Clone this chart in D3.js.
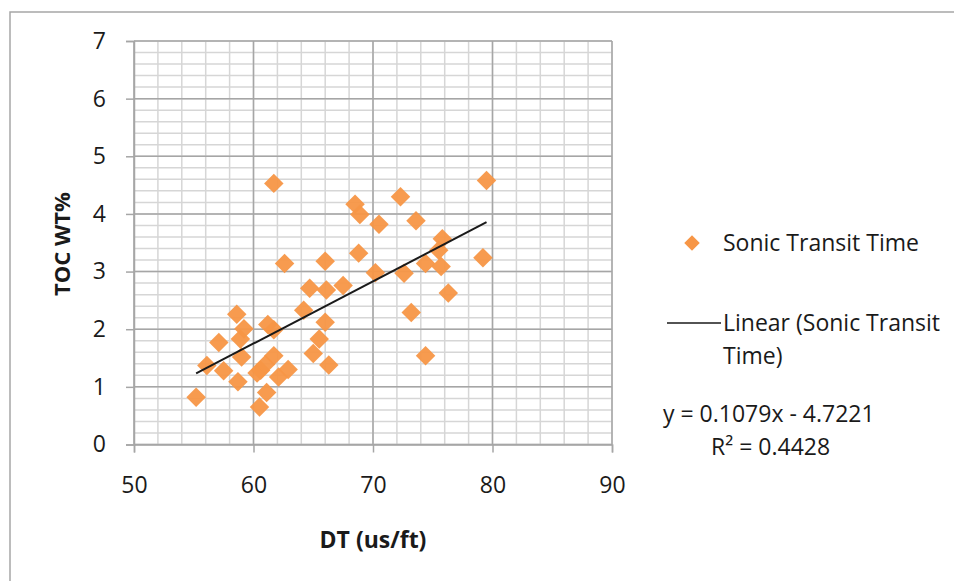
<!DOCTYPE html>
<html>
<head>
<meta charset="utf-8">
<script src="https://cdn.jsdelivr.net/npm/d3@7"></script>
<style>
  body { margin: 0; background: #fff; }
  text { font-family: "Open Sans", sans-serif; fill: #1a1a1a; }
</style>
</head>
<body>
<div id="chart"></div>
<script>
// TOC vs sonic transit time
const dtValues = [55.2, 56.1, 57.1, 57.5, 58.6, 58.7, 58.9, 59.2, 59.0, 60.3,
    60.5, 61.1, 61.2, 61.7, 60.6, 61.0, 61.7, 62.1, 62.9, 61.7,
    62.6, 64.2, 64.7, 65.0, 65.5, 66.0, 66.0, 66.1, 66.3, 67.5,
    68.5, 68.9, 68.8, 70.2, 70.5, 72.3, 72.6, 73.2, 73.6, 74.4,
    74.4, 75.5, 75.8, 75.7, 76.3, 79.2, 79.5];
const tocValues = [0.82, 1.37, 1.77, 1.28, 2.26, 1.09, 1.83, 2.01, 1.52, 1.24,
    0.65, 0.90, 2.08, 1.99, 1.29, 1.39, 1.54, 1.17, 1.30, 4.53,
    3.14, 2.33, 2.71, 1.58, 1.83, 2.12, 3.18, 2.68, 1.38, 2.76,
    4.17, 3.99, 3.32, 2.98, 3.82, 4.30, 2.97, 2.29, 3.88, 3.14,
    1.54, 3.37, 3.57, 3.09, 2.63, 3.24, 4.58];

const xTicks = [50, 60, 70, 80, 90];
const yTicks = [0, 1, 2, 3, 4, 5, 6, 7];
const slope = 0.1079, intercept = -4.7221;
const seriesName = "Sonic Transit Time";

const width = 954, height = 581;
const fontSize = "23px";
const svg = d3.select("#chart").append("svg")
    .attr("width", width)
    .attr("height", height);

// chart frame (runs off the right and bottom of the picture)
svg.append("rect")
    .attr("x", 10).attr("y", 12)
    .attr("width", 960).attr("height", 600)
    .attr("fill", "none")
    .attr("stroke", "#a6a6a6")
    .attr("stroke-width", 1.5);

const x = d3.scaleLinear().domain([50, 90]).range([134, 612]);
const y = d3.scaleLinear().domain([0, 7]).range([444.5, 41]);

// minor grid
const grid = svg.append("g");
grid.selectAll(".vminor")
    .data(d3.range(50, 90.01, 2))
    .enter().append("line")
        .attr("x1", d => x(d)).attr("x2", d => x(d))
        .attr("y1", y(0)).attr("y2", y(7))
        .style("stroke", "#d6d6d6")
        .style("stroke-width", 1.5);
grid.selectAll(".hminor")
    .data(d3.range(0, 35.01, 1).map(i => i / 5))
    .enter().append("line")
        .attr("x1", x(50)).attr("x2", x(90))
        .attr("y1", d => y(d)).attr("y2", d => y(d))
        .style("stroke", "#d6d6d6")
        .style("stroke-width", 1.5);

// major grid
grid.selectAll(".vmajor")
    .data(xTicks)
    .enter().append("line")
        .attr("x1", d => x(d)).attr("x2", d => x(d))
        .attr("y1", y(0)).attr("y2", y(7))
        .style("stroke", "#a6a6a6")
        .style("stroke-width", 1.5);
grid.selectAll(".hmajor")
    .data(yTicks)
    .enter().append("line")
        .attr("x1", x(50)).attr("x2", x(90))
        .attr("y1", d => y(d)).attr("y2", d => y(d))
        .style("stroke", "#a6a6a6")
        .style("stroke-width", 1.5);

// axes
const xAxis = svg.append("g")
    .attr("transform", `translate(0,${y(0)})`)
    .call(d3.axisBottom(x).tickValues(xTicks).tickFormat(d3.format("d"))
        .tickSize(8).tickPadding(24));
const yAxis = svg.append("g")
    .attr("transform", `translate(${x(50)},0)`)
    .call(d3.axisLeft(y).tickValues(yTicks).tickFormat(d3.format("d"))
        .tickSize(8).tickPadding(20));

[xAxis, yAxis].forEach(a => {
    a.select(".domain").style("stroke", "#a6a6a6").style("stroke-width", 1.5);
    a.selectAll(".tick line").style("stroke", "#a6a6a6").style("stroke-width", 1.5);
    a.selectAll("text")
        .style("font-family", "'Open Sans', sans-serif")
        .style("font-size", fontSize)
        .style("fill", "#1a1a1a");
});

// points
const xMin = d3.min(dtValues), xMax = d3.max(dtValues);
const diamond = d3.symbol().type(d3.symbolSquare).size(190);
svg.selectAll(".pt")
    .data(dtValues.map((d, i) => [d, tocValues[i]]))
    .enter().append("path")
        .attr("d", diamond)
        .attr("transform", d => `translate(${x(d[0])},${y(d[1])}) rotate(45)`)
        .style("fill", "#f79646")
        .style("fill-opacity", 0.95);

// trendline on top, over the data range
svg.append("line")
    .attr("x1", x(xMin)).attr("y1", y(slope * xMin + intercept))
    .attr("x2", x(xMax)).attr("y2", y(slope * xMax + intercept))
    .style("stroke", "#1a1a1a")
    .style("stroke-width", 2);

// axis titles
svg.append("text")
    .attr("x", 373).attr("y", 548)
    .attr("text-anchor", "middle")
    .style("font-weight", "bold")
    .style("font-size", "23px")
    .text("DT (us/ft)");
svg.append("text")
    .attr("transform", "translate(70,244) rotate(-90)")
    .attr("text-anchor", "middle")
    .style("font-weight", "bold")
    .style("font-size", "22px")
    .text("TOC WT%");

// legend
const legend = svg.append("g");
legend.append("path")
    .attr("d", d3.symbol().type(d3.symbolSquare).size(120))
    .attr("transform", "translate(692,243) rotate(45)")
    .style("fill", "#f79646");
legend.append("text")
    .attr("x", 723).attr("y", 251)
    .style("font-size", fontSize)
    .text(seriesName);
legend.append("line")
    .attr("x1", 667).attr("x2", 721)
    .attr("y1", 323).attr("y2", 323)
    .style("stroke", "#1a1a1a")
    .style("stroke-width", 1.5);
legend.append("text")
    .attr("x", 723).attr("y", 331)
    .style("font-size", fontSize)
    .text("Linear (" + seriesName.split(" ").slice(0, 2).join(" "));
legend.append("text")
    .attr("x", 723).attr("y", 364)
    .style("font-size", fontSize)
    .text("Time)");

// equation
svg.append("text")
    .attr("x", 663).attr("y", 422)
    .style("font-size", fontSize)
    .text(`y = ${slope}x - ${Math.abs(intercept)}`);
svg.append("text")
    .attr("x", 711).attr("y", 455)
    .style("font-size", fontSize)
    .text("R² = 0.4428");
</script>
</body>
</html>
